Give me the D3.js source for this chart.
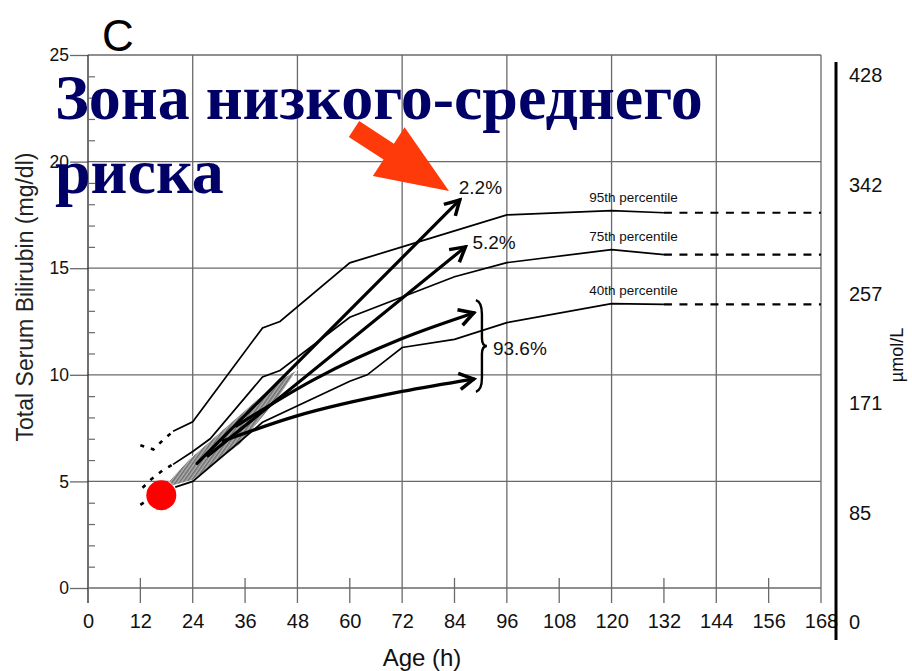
<!DOCTYPE html>
<html>
<head>
<meta charset="utf-8">
<script src="https://cdn.jsdelivr.net/npm/d3@7"></script>
<style>
  html, body { margin: 0; padding: 0; background: #fff; }
  svg { display: block; }
  .num { font-family: "Liberation Sans Narrow", "Arial Narrow", "Liberation Sans", Arial, sans-serif; }
  .sans { font-family: "Liberation Sans", Arial, sans-serif; }
</style>
</head>
<body>
<svg id="chart" width="912" height="671"></svg>
<script>
// ---- data (age in hours, total serum bilirubin in mg/dl) ----
const ageTicks = [0, 12, 24, 36, 48, 60, 72, 84, 96, 108, 120, 132, 144, 156, 168];
const bilirubinTicks = [0, 5, 10, 15, 20, 25];
const umolTicks = [0, 85, 171, 257, 342, 428];

// percentile curves: early dotted part, then solid part
const p95Early = [[12, 6.7], [15, 6.5], [17, 6.9], [19.5, 7.35]];
const p95 = [[19.5, 7.35], [24, 7.8], [40, 12.2], [44, 12.5], [60, 15.25], [72, 16.0], [84, 16.75], [96, 17.5], [120, 17.7], [132, 17.6]];
const p75Early = [[12.5, 4.7], [14.5, 5.1], [17, 5.5], [19.5, 5.8]];
const p75 = [[19.5, 5.8], [24, 6.4], [28, 7.0], [40, 9.9], [44, 10.2], [60, 12.7], [72, 13.65], [84, 14.6], [96, 15.26], [120, 15.87], [132, 15.64]];
const p40Early = [[12, 3.9], [15, 4.3], [18, 4.6]];
const p40 = [[20, 4.73], [24, 5.0], [40, 7.77], [60, 9.7], [64, 10.0], [72, 11.28], [84, 11.66], [96, 12.45], [120, 13.34], [132, 13.3]];
const percentileNames = ["95th percentile", "75th percentile", "40th percentile"];

// outcome arrows from the pre-discharge band
const arrow22 = [[25, 5.85], [85.2, 18.2]];
const arrow52 = [[27.5, 6.2], [86.5, 16.0]];
const arrowHigh = [[34, 7.6], [52, 9.8], [72, 11.7], [88.4, 12.9]];
const arrowLow = [[31, 6.9], [47.5, 8.05], [72, 9.22], [88.4, 9.8]];
const outcomeLabels = ["2.2%", "5.2%", "93.6%"];

// pre-discharge measurement band and the marked value
const bandUpper = [[18.5, 5.0], [23, 6.0], [31, 7.45], [38.8, 8.85], [44.8, 9.85], [48, 10.25]];
const bandLower = [[48, 10.25], [43.4, 8.85], [34.9, 6.75], [24, 5.05], [19.5, 4.8]];
const measurement = [16.8, 4.35];

// ---- scales ----
const svg = d3.select("#chart");
const x = d3.scaleLinear().domain([0, 168]).range([88, 821]);
const y = d3.scaleLinear().domain([0, 25]).range([588, 55]);
const yUmol = d3.scaleLinear().domain([0, 428]).range([622, 75]);
const gridColor = "#6a6a6a";

const defs = svg.append("defs");
const pat = defs.append("pattern").attr("id", "stipple").attr("patternUnits", "userSpaceOnUse")
  .attr("width", 3).attr("height", 3).attr("patternTransform", "rotate(35)");
pat.append("rect").attr("width", 3).attr("height", 3).attr("fill", "#b0b0b0");
pat.append("rect").attr("width", 1.5).attr("height", 3).attr("fill", "#6e6e6e");

defs.append("marker").attr("id", "head").attr("viewBox", "0 0 16 16")
  .attr("refX", 13.5).attr("refY", 8).attr("markerWidth", 20).attr("markerHeight", 20)
  .attr("markerUnits", "userSpaceOnUse").attr("orient", "auto")
  .append("path").attr("d", "M2,1.5 L13.5,8 L2,14.5").attr("fill", "none")
  .attr("stroke", "#000").attr("stroke-width", 2.8).attr("stroke-linejoin", "miter");

// ---- grid ----
const grid = svg.append("g");
grid.selectAll("line.h").data(bilirubinTicks.filter(d => d > 0)).join("line")
  .attr("x1", x(0)).attr("x2", x(168)).attr("y1", d => y(d)).attr("y2", d => y(d))
  .attr("stroke", gridColor).attr("stroke-width", 1.3);
grid.selectAll("line.v").data(ageTicks.filter(d => d > 0 && d % 24 === 0)).join("line")
  .attr("x1", d => x(d)).attr("x2", d => x(d)).attr("y1", y(25)).attr("y2", y(0) + 15)
  .attr("stroke", gridColor).attr("stroke-width", 1.3);
grid.selectAll("line.m").data(ageTicks.filter(d => d % 24 === 12)).join("line")
  .attr("x1", d => x(d)).attr("x2", d => x(d)).attr("y1", y(0) - 10).attr("y2", y(0) + 15)
  .attr("stroke", gridColor).attr("stroke-width", 1.3);

// ---- left axis ----
const yAxis = svg.append("g").attr("transform", `translate(${x(0)},0)`)
  .call(d3.axisLeft(y).tickValues(bilirubinTicks).tickSize(18).tickPadding(1).tickFormat(d3.format("d")));
yAxis.select(".domain").remove();
yAxis.selectAll(".tick line").attr("stroke", gridColor).attr("stroke-width", 1.3);
yAxis.selectAll(".tick text").attr("class", "sans").attr("font-size", 17.5).attr("fill", "#111");
svg.append("line").attr("x1", x(0)).attr("x2", x(0)).attr("y1", y(25)).attr("y2", y(0) + 15)
  .attr("stroke", "#333").attr("stroke-width", 1.4);
svg.append("line").attr("x1", x(0)).attr("x2", x(168)).attr("y1", y(0)).attr("y2", y(0))
  .attr("stroke", gridColor).attr("stroke-width", 1.3);
const minor = svg.append("g").attr("transform", `translate(${x(0)},0)`)
  .call(d3.axisRight(y).tickValues(d3.range(0, 26).filter(d => d % 5 !== 0)).tickSize(7).tickFormat(""));
minor.select(".domain").remove();
minor.selectAll(".tick line").attr("stroke", gridColor).attr("stroke-width", 1.2);

svg.append("text").attr("class", "sans").attr("font-size", 23).attr("fill", "#222")
  .attr("text-anchor", "middle").attr("transform", "translate(33,297) rotate(-90)")
  .text("Total Serum Bilirubin (mg/dl)");

// ---- bottom axis labels ----
const xAxis = svg.append("g").attr("transform", `translate(0,${y(0)})`)
  .call(d3.axisBottom(x).tickValues(ageTicks).tickSize(0).tickPadding(26));
xAxis.select(".domain").remove();
xAxis.selectAll(".tick text").attr("class", "num").attr("font-size", 20).attr("fill", "#111");
svg.append("text").attr("class", "num").attr("font-size", 24).attr("fill", "#111")
  .attr("text-anchor", "middle").attr("x", 422).attr("y", 666).text("Age (h)");

// ---- right µmol/L scale ----
svg.append("line").attr("x1", 836).attr("x2", 836).attr("y1", 62).attr("y2", 640)
  .attr("stroke", "#000").attr("stroke-width", 3);
svg.append("g").selectAll("text").data(umolTicks).join("text")
  .attr("class", "num").attr("font-size", 20).attr("fill", "#111")
  .attr("x", 849).attr("y", d => yUmol(d)).attr("dy", "0.35em").text(d => d);
svg.append("text").attr("class", "sans").attr("font-size", 18).attr("fill", "#111")
  .attr("text-anchor", "middle").attr("transform", "translate(903,355) rotate(-90)")
  .text("µmol/L");

// ---- band of pre-discharge values ----
const lin = d3.line().x(d => x(d[0])).y(d => y(d[1]));
const smooth = d3.line().x(d => x(d[0])).y(d => y(d[1])).curve(d3.curveMonotoneX);
svg.append("path").attr("d", lin(bandUpper.concat(bandLower)) + "Z")
  .attr("fill", "url(#stipple)").attr("stroke", "#fff").attr("stroke-width", 1);

// ---- percentile curves ----
const curves = svg.append("g").attr("fill", "none").attr("stroke", "#000");
[p95Early, p75Early, p40Early].forEach(s => curves.append("path").attr("d", lin(s))
  .attr("stroke-width", 2.6).attr("stroke-dasharray", "4,7"));
[p95, p75, p40].forEach(s => curves.append("path").attr("d", lin(s)).attr("stroke-width", 1.7));
[p95, p75, p40].forEach(s => {
  const last = s[s.length - 1];
  curves.append("line").attr("x1", x(last[0])).attr("x2", x(168))
    .attr("y1", y(last[1])).attr("y2", y(last[1]))
    .attr("stroke-width", 2.2).attr("stroke-dasharray", "8,7.5");
});
[p95, p75, p40].forEach((s, i) => {
  const peak = s.find(d => d[0] === 120);
  svg.append("text").attr("class", "sans").attr("font-size", 13.5).attr("fill", "#111")
    .attr("text-anchor", "middle").attr("x", x(120) + 22).attr("y", y(peak[1]) - 9)
    .text(percentileNames[i]);
});

// ---- outcome arrows ----
const arrows = svg.append("g").attr("fill", "none").attr("stroke", "#000").attr("stroke-width", 3.2)
  .attr("stroke-linecap", "round");
[arrow22, arrow52, arrowHigh, arrowLow].forEach(s => arrows.append("path")
  .attr("d", s.length > 2 ? smooth(s) : lin(s)).attr("marker-end", "url(#head)"));

const end22 = arrow22[arrow22.length - 1], end52 = arrow52[arrow52.length - 1];
svg.append("text").attr("class", "sans").attr("font-size", 19).attr("fill", "#111")
  .attr("x", x(end22[0]) - 1).attr("y", y(end22[1]) - 6).text(outcomeLabels[0]);
svg.append("text").attr("class", "sans").attr("font-size", 19).attr("fill", "#111")
  .attr("x", x(end52[0]) + 7).attr("y", y(end52[1]) + 2).text(outcomeLabels[1]);

// brace grouping the two lower arrows
const topV = arrowHigh[arrowHigh.length - 1][1] + 0.6, botV = arrowLow[arrowLow.length - 1][1] - 0.6;
const bx = x(89.6), midY = (y(topV) + y(botV)) / 2;
const braceD = `M${bx - 3},${y(topV)} Q${bx + 3},${y(topV) + 2} ${bx + 3},${y(topV) + 14}
  L${bx + 3},${midY - 8} Q${bx + 3},${midY} ${bx + 8},${midY}
  Q${bx + 3},${midY} ${bx + 3},${midY + 8} L${bx + 3},${y(botV) - 14}
  Q${bx + 3},${y(botV) - 2} ${bx - 3},${y(botV)}`;
svg.append("path").attr("d", braceD).attr("fill", "none").attr("stroke", "#000").attr("stroke-width", 2.4);
svg.append("text").attr("class", "sans").attr("font-size", 19).attr("fill", "#111")
  .attr("x", bx + 14).attr("y", midY + 9).text(outcomeLabels[2]);

// ---- measured value ----
svg.append("circle").attr("cx", x(measurement[0])).attr("cy", y(measurement[1])).attr("r", 15)
  .attr("fill", "#ff0000");

// ---- panel letter and zone caption ----
svg.append("text").attr("class", "sans").attr("font-size", 44).attr("fill", "#000")
  .attr("x", 102).attr("y", 51).text("C");
const caption = svg.append("g").attr("font-family", "'Liberation Serif', 'Times New Roman', serif")
  .attr("font-weight", "bold").attr("font-size", 64).attr("fill", "#000066");
caption.append("text").attr("x", 55).attr("y", 119).text("Зона низкого-среднего");
caption.append("text").attr("x", 55).attr("y", 193).text("риска");

// ---- red pointer toward the 2.2% outcome ----
const tail = [354, 129], tip = [449, 191];
const len = Math.hypot(tip[0] - tail[0], tip[1] - tail[1]);
const ux = (tip[0] - tail[0]) / len, uy = (tip[1] - tail[1]) / len, nx = -uy, ny = ux;
const headLen = 72, headHalf = 29, shaftHalf = 9.5;
const bxp = tip[0] - ux * headLen, byp = tip[1] - uy * headLen;
const pts = [
  [tail[0] + nx * shaftHalf, tail[1] + ny * shaftHalf],
  [bxp + nx * shaftHalf, byp + ny * shaftHalf],
  [bxp + nx * headHalf, byp + ny * headHalf],
  tip,
  [bxp - nx * headHalf, byp - ny * headHalf],
  [bxp - nx * shaftHalf, byp - ny * shaftHalf],
  [tail[0] - nx * shaftHalf, tail[1] - ny * shaftHalf]
];
svg.append("polygon").attr("points", pts.map(p => p.join(",")).join(" ")).attr("fill", "#ff3a0a");
</script>
</body>
</html>
